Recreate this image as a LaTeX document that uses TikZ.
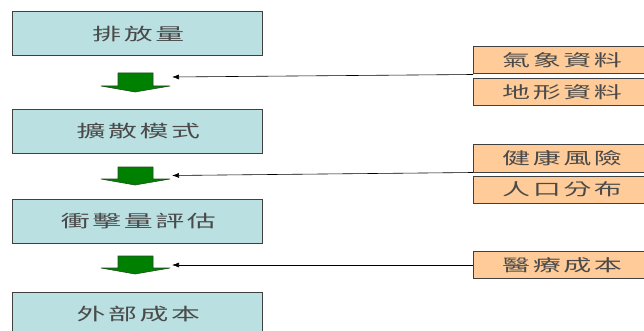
\documentclass[tikz,border=0pt]{standalone}
\usepackage{fontspec}
\usepackage{graphicx}
\newfontfamily\cjk{Noto Sans CJK TC}
\usetikzlibrary{arrows.meta}
\definecolor{boxblue}{HTML}{BBE0E2}
\definecolor{boxorange}{HTML}{FFCC99}
\definecolor{edgegray}{HTML}{404040}
\definecolor{txtgray}{HTML}{4A4A4A}
\definecolor{arrgreen}{HTML}{008000}
\definecolor{arrdark}{HTML}{1E4D1E}
\newcommand\zhtxt[1]{\scalebox{1.7}[1]{\hspace*{1.6pt}\addfontfeature{LetterSpace=9}#1}}
\tikzset{
  stagebox/.style={draw=edgegray, line width=1pt, fill=boxblue, minimum width=250pt, minimum height=44pt, inner sep=0pt, text=txtgray, font=\cjk\fontsize{17}{18}\selectfont},
  databox/.style={draw=edgegray, line width=1pt, fill=boxorange, minimum width=174pt, minimum height=27pt, inner sep=0pt, anchor=west, text=txtgray, font=\cjk\fontsize{16.5}{18}\selectfont, text width=174pt},
  flowarrow/.style={fill=arrgreen, draw=arrdark, line width=0.6pt},
  feed/.style={draw=black, line width=0.6pt, -{Latex[length=7pt,width=5pt]}}
}
\begin{document}
\begin{tikzpicture}[x=1pt,y=-1pt]
\useasboundingbox (0,0) rectangle (644,331);
\begin{scope}
\clip (0,0) rectangle (644,331);
% stage boxes
\node[stagebox] (s1) at (137,34) {\zhtxt{排放量}};
\node[stagebox] (s2) at (137,131.5) {\zhtxt{擴散模式}};
\node[stagebox] (s3) at (137,221) {\zhtxt{衝擊量評估}};
\node[stagebox] (s4) at (137,314) {\zhtxt{外部成本}};
% data boxes
\node[databox] (d1) at (473,60.5) {\hspace*{26pt}\zhtxt{氣象資料}};
\node[databox] (d2) at (473,92) {\hspace*{26pt}\zhtxt{地形資料}};
\node[databox] (d3) at (473,158.5) {\hspace*{26pt}\zhtxt{健康風險}};
\node[databox] (d4) at (473,189.5) {\hspace*{26pt}\zhtxt{人口分布}};
\node[databox] (d5) at (473,265) {\hspace*{26pt}\zhtxt{醫療成本}};
% green block arrows
\draw[flowarrow] (118,73) -- (153,73) -- (153,86) -- (170,86) -- (135,92) -- (101,86) -- (118,86) -- cycle;
\draw[flowarrow] (118,167) -- (153,167) -- (153,179) -- (170,179) -- (135,185) -- (101,179) -- (118,179) -- cycle;
\draw[flowarrow] (118,256) -- (153,256) -- (153,268) -- (170,268) -- (135,274) -- (101,268) -- (118,268) -- cycle;
% feed-in connectors
\coordinate (t1) at (172,77);
\coordinate (t2) at (172,175.5);
\coordinate (t3) at (172,265);
\draw[feed] (d1.south west) -- (t1);
\draw[feed] (d3.south west) -- (t2);
\draw[feed] (d5.west) -- (t3);
\end{scope}
\end{tikzpicture}
\end{document}
